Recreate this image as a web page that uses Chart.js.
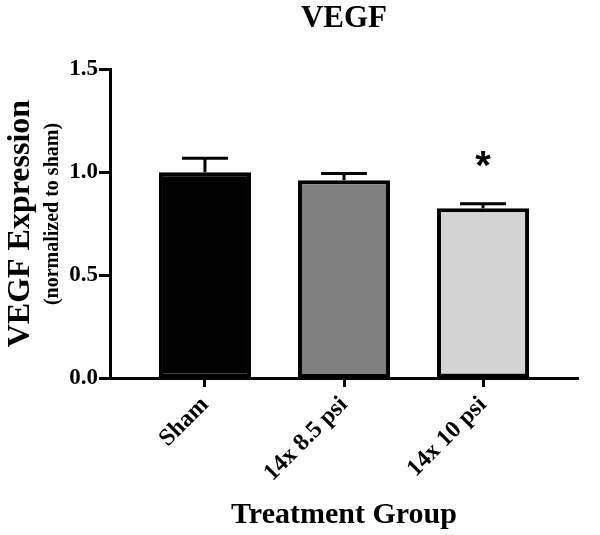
<!DOCTYPE html>
<html>
<head>
<meta charset="utf-8">
<script src="https://cdn.jsdelivr.net/npm/chart.js@4.4.1/dist/chart.umd.min.js"></script>
<style>
  html, body { margin: 0; padding: 0; background: #fff; }
  #wrap { width: 600px; height: 535px; }
</style>
</head>
<body>
<div id="wrap"><canvas id="chart"></canvas></div>
<script>
// values
const groups = ['Sham', '14x 8.5 psi', '14x 10 psi'];
const means = [1.0, 0.96, 0.824];
const errTops = [1.067, 0.993, 0.847];
const marks = ['', '', '*'];
const yTicks = [0, 0.5, 1.0, 1.5];
const fills = ['#000000', '#808080', '#d3d3d3'];

const serif = '"Liberation Serif", "Times New Roman", serif';

// upper error bars, significance marks and the small second line of the y title
const extras = {
  id: 'extras',
  afterDatasetsDraw(chart) {
    const ctx = chart.ctx;
    const y = chart.scales.y;
    const bars = chart.getDatasetMeta(0).data;
    ctx.save();
    ctx.strokeStyle = '#000';
    ctx.lineWidth = 3;
    bars.forEach((bar, i) => {
      const top = y.getPixelForValue(errTops[i]);
      ctx.beginPath();
      ctx.moveTo(bar.x, bar.y);
      ctx.lineTo(bar.x, top);
      ctx.moveTo(bar.x - 23, top);
      ctx.lineTo(bar.x + 23, top);
      ctx.stroke();
      if (marks[i]) {
        ctx.fillStyle = '#000';
        ctx.font = 'bold 40px "Liberation Sans", Arial, sans-serif';
        ctx.textAlign = 'center';
        ctx.textBaseline = 'middle';
        ctx.fillText(marks[i], bar.x, top - 36);
      }
    });
    ctx.restore();
  },
  afterDraw(chart) {
    const ctx = chart.ctx;
    ctx.save();
    ctx.translate(53, 214);
    ctx.rotate(-Math.PI / 2);
    ctx.fillStyle = '#000';
    ctx.font = 'bold 20px ' + serif;
    ctx.textAlign = 'center';
    ctx.textBaseline = 'middle';
    ctx.fillText('(normalized to sham)', 0, 0);
    ctx.restore();
  }
};

Chart.defaults.color = '#000';
Chart.defaults.font.family = serif;

new Chart(document.getElementById('chart'), {
  type: 'bar',
  data: {
    datasets: [{
      data: means.map((v, i) => ({ x: i, y: v })),
      backgroundColor: fills,
      borderColor: '#000',
      borderWidth: 4,
      borderSkipped: false,
      barPercentage: 0.662,
      categoryPercentage: 1.0
    }]
  },
  options: {
    responsive: true,
    maintainAspectRatio: false,
    animation: false,
    layout: { padding: { left: 0, right: 22, top: 0, bottom: 0 } },
    plugins: {
      legend: { display: false },
      tooltip: { enabled: false },
      title: {
        display: true,
        text: 'VEGF',
        fullSize: false,
        font: { size: 31, weight: 'bold', family: serif },
        padding: { top: 0, bottom: 32 }
      }
    },
    scales: {
      x: {
        type: 'linear',
        offset: false,
        min: -0.683,
        max: 2.683,
        afterBuildTicks: s => { s.ticks = groups.map((g, i) => ({ value: i })); },
        afterFit: s => { s.height = 157; },
        ticks: {
          autoSkip: false,
          minRotation: 45,
          maxRotation: 45,
          padding: 4,
          font: { size: 24, weight: 'bold' },
          callback: v => groups[v]
        },
        grid: {
          offset: false,
          drawOnChartArea: false,
          tickLength: 9,
          tickWidth: 3,
          tickColor: '#000'
        },
        border: { color: '#000', width: 3 },
        title: {
          display: true,
          text: 'Treatment Group',
          font: { size: 30, weight: 'bold' },
          padding: { top: 0, bottom: 2 }
        }
      },
      y: {
        min: 0,
        max: 1.5,
        afterBuildTicks: s => { s.ticks = yTicks.map(v => ({ value: v })); },
        afterFit: s => { s.width = 110; },
        ticks: {
          padding: 1,
          font: { size: 23, weight: 'bold' },
          callback: v => Number(v).toFixed(1)
        },
        grid: {
          drawOnChartArea: false,
          tickLength: 11,
          tickWidth: 3,
          tickColor: '#000'
        },
        border: { color: '#000', width: 3 },
        title: {
          display: true,
          text: 'VEGF Expression',
          font: { size: 32, weight: 'bold' },
          padding: { top: 2, bottom: 0 }
        }
      }
    }
  },
  plugins: [extras]
});
</script>
</body>
</html>
